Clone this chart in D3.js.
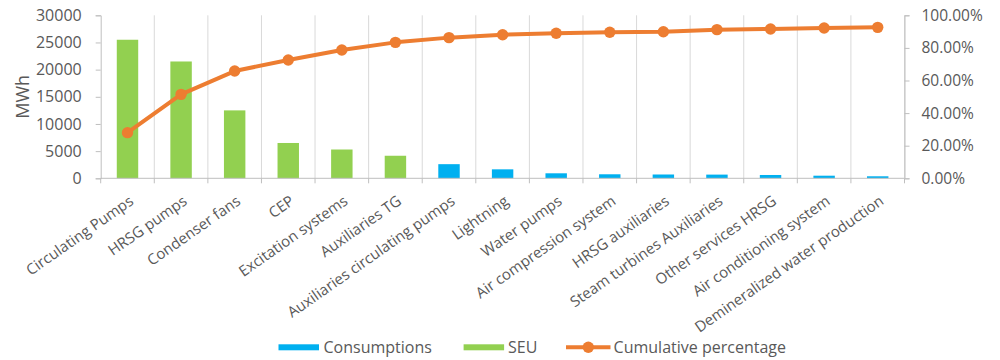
<!DOCTYPE html>
<html>
<head>
<meta charset="utf-8">
<script src="https://cdn.jsdelivr.net/npm/d3@7"></script>
<style>
  html, body { margin: 0; padding: 0; background: #ffffff; }
  svg { display: block; font-family: "Open Sans", "Noto Sans", sans-serif; }
  .lbl { fill: #595959; }
</style>
</head>
<body>
<svg id="chart" width="1000" height="360"></svg>
<script>
// Energy use by system (MWh) with cumulative share
const categories = [
  "Circulating Pumps", "HRSG pumps", "Condenser fans", "CEP", "Excitation systems",
  "Auxiliaries TG", "Auxiliaries circulating pumps", "Lightning", "Water pumps",
  "Air compression system", "HRSG auxiliaries", "Steam turbines Auxiliaries",
  "Other services HRSG", "Air conditioning system", "Demineralized water production"
];
// Significant energy uses
const seuValues = [25500, 21500, 12500, 6500, 5300, 4150, null, null, null, null, null, null, null, null, null];
// Remaining consumptions
const consumptionValues = [null, null, null, null, null, null, 2600, 1650, 920, 740, 700, 680, 610, 480, 370];
// Cumulative percentage of total consumption
const cumulativeShare = [0.28, 0.515, 0.658, 0.726, 0.787, 0.834, 0.863, 0.881, 0.89, 0.896, 0.899, 0.912, 0.916, 0.922, 0.926];

const leftTicks = [0, 5000, 10000, 15000, 20000, 25000, 30000];
const rightTicks = [0, 0.2, 0.4, 0.6, 0.8, 1.0];
const legendItems = ["Consumptions", "SEU", "Cumulative percentage"];

const colors = { consumption: "#00B0F0", seu: "#92D050", line: "#ED7D31" };
const axisColor = "#BFBFBF", gridColor = "#D9D9D9", textColor = "#595959";

const plotLeft = 100.7, plotRight = 904.5, plotTop = 15.3, plotBottom = 178.3;

const svg = d3.select("#chart");

const x = d3.scaleBand().domain(categories).range([plotLeft, plotRight]).padding(0);
const y = d3.scaleLinear().domain([0, 30000]).range([plotBottom, plotTop]);
const y2 = d3.scaleLinear().domain([0, 1]).range([plotBottom, plotTop]);
const bw = x.bandwidth();
const barW = bw * 0.4;

// vertical gridlines on category boundaries
const boundaries = categories.map(c => x(c)).concat([plotRight]);
svg.append("g").selectAll("line").data(boundaries.slice(1)).join("line")
  .attr("x1", d => d).attr("x2", d => d)
  .attr("y1", plotTop).attr("y2", plotBottom)
  .attr("stroke", gridColor).attr("stroke-width", 1);

// bars
const bars = svg.append("g");
bars.selectAll("rect.seu").data(categories.map((c, i) => ({ c, v: seuValues[i] })).filter(d => d.v != null))
  .join("rect").attr("class", "seu")
  .attr("x", d => x(d.c) + (bw - barW) / 2).attr("width", barW)
  .attr("y", d => y(d.v)).attr("height", d => y(0) - y(d.v))
  .attr("fill", colors.seu);
bars.selectAll("rect.cons").data(categories.map((c, i) => ({ c, v: consumptionValues[i] })).filter(d => d.v != null))
  .join("rect").attr("class", "cons")
  .attr("x", d => x(d.c) + (bw - barW) / 2).attr("width", barW)
  .attr("y", d => y(d.v)).attr("height", d => y(0) - y(d.v))
  .attr("fill", colors.consumption);

// left axis
const gl = svg.append("g").attr("transform", `translate(${plotLeft},0)`)
  .call(d3.axisLeft(y).tickValues(leftTicks).tickFormat(d3.format("d")).tickSize(5).tickPadding(14));
gl.select(".domain").attr("stroke", axisColor);
gl.selectAll(".tick line").attr("stroke", axisColor);
gl.selectAll("text").attr("fill", textColor).style("font-size", "16px").style("font-family", "Open Sans");

// right axis
const gr = svg.append("g").attr("transform", `translate(${plotRight},0)`)
  .call(d3.axisRight(y2).tickValues(rightTicks).tickFormat(d3.format(".2%")).tickSize(5).tickPadding(12));
gr.select(".domain").attr("stroke", axisColor);
gr.selectAll(".tick line").attr("stroke", axisColor);
gr.selectAll("text").attr("fill", textColor).style("font-size", "15.5px").style("font-family", "Open Sans");

// bottom axis line and boundary ticks
svg.append("line").attr("x1", plotLeft).attr("x2", plotRight).attr("y1", plotBottom).attr("y2", plotBottom)
  .attr("stroke", axisColor);
svg.append("g").selectAll("line").data(boundaries).join("line")
  .attr("x1", d => d).attr("x2", d => d).attr("y1", plotBottom).attr("y2", plotBottom + 5)
  .attr("stroke", axisColor);

// category labels
svg.append("g").selectAll("text").data(categories).join("text")
  .attr("class", "lbl")
  .attr("transform", d => `translate(${x(d) + bw / 2 + 7},${plotBottom + 25}) rotate(-35)`)
  .attr("text-anchor", "end")
  .style("font-size", "15px")
  .text(d => d);

// y-axis title
svg.append("text").attr("class", "lbl")
  .attr("transform", `translate(28.5,${(plotTop + plotBottom) / 2}) rotate(-90)`)
  .attr("text-anchor", "middle")
  .style("font-size", "18px")
  .text("MWh");

// cumulative line
const pts = categories.map((c, i) => ({ c, v: cumulativeShare[i] }));
svg.append("path").datum(pts)
  .attr("fill", "none").attr("stroke", colors.line).attr("stroke-width", 4)
  .attr("stroke-linejoin", "round")
  .attr("d", d3.line().x(d => x(d.c) + bw / 2).y(d => y2(d.v)));
svg.append("g").selectAll("circle").data(pts).join("circle")
  .attr("cx", d => x(d.c) + bw / 2).attr("cy", d => y2(d.v)).attr("r", 5.7)
  .attr("fill", colors.line);

// legend
const lg = svg.append("g");
const legendBaseline = 352.5;
const legendFont = "16px";
lg.append("rect").attr("x", 278.5).attr("y", 344.3).attr("width", 40.5).attr("height", 6).attr("fill", colors.consumption);
lg.append("text").attr("class", "lbl").attr("x", 323.5).attr("y", legendBaseline).style("font-size", legendFont).text(legendItems[0]);
lg.append("rect").attr("x", 463.6).attr("y", 344.3).attr("width", 40.5).attr("height", 6).attr("fill", colors.seu);
lg.append("text").attr("class", "lbl").attr("x", 508).attr("y", legendBaseline).style("font-size", legendFont).text(legendItems[1]);
lg.append("line").attr("x1", 566).attr("x2", 610.5).attr("y1", 347.3).attr("y2", 347.3)
  .attr("stroke", colors.line).attr("stroke-width", 4);
lg.append("circle").attr("cx", 588.3).attr("cy", 347.3).attr("r", 5.7).attr("fill", colors.line);
lg.append("text").attr("class", "lbl").attr("x", 613.6).attr("y", legendBaseline).style("font-size", legendFont).text(legendItems[2]);
</script>
</body>
</html>
